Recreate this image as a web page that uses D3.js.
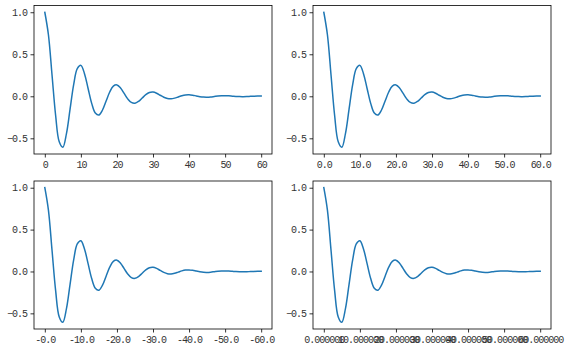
<!DOCTYPE html>
<html>
<head>
<meta charset="utf-8">
<script src="https://cdn.jsdelivr.net/npm/d3@7/dist/d3.min.js"></script>
<style>
  html, body { margin: 0; padding: 0; background: #fff; }
  svg { display: block; }
  .tick text { font-family: "Liberation Mono", "DejaVu Sans Mono", monospace; font-size: 10px; letter-spacing: -1px; fill: #333; }
</style>
</head>
<body>
<svg id="chart" width="567" height="352"></svg>
<script>
// ---- data (damped oscillation) ----
const tValues = [0,1,2,3,4,5,6,7,8,9,10,11,12,13,14,15,16,17,18,19,20,
  21,22,23,24,25,26,27,28,29,30,31,32,33,34,35,36,37,38,39,40,
  41,42,43,44,45,46,47,48,49,50,51,52,53,54,55,56,57,58,59,60];
const yValues = [1.000,0.7320,0.2530,-0.2289,-0.5423,-0.6065,-0.4440,-0.1535,0.1389,0.3289,
  0.3679,0.2693,0.0931,-0.0842,-0.1995,-0.2231,-0.1633,-0.0565,0.0511,0.1210,
  0.1353,0.0991,0.0342,-0.0310,-0.0734,-0.0821,-0.0601,-0.0208,0.0188,0.0445,
  0.0498,0.0364,0.0126,-0.0114,-0.0270,-0.0302,-0.0221,-0.0076,0.0069,0.0164,
  0.0183,0.0134,0.0046,-0.0042,-0.0099,-0.0111,-0.0081,-0.0028,0.0025,0.0060,
  0.0067,0.0049,0.0017,-0.0015,-0.0037,-0.0041,-0.0030,-0.0010,0.0009,0.0022,0.0025];

// ---- ticks ----
const xTickValues = [0,10,20,30,40,50,60];
const yTickValues = [-0.5,0.0,0.5,1.0];
const yTickLabels = ["\u22120.5","0.0","0.5","1.0"];
const xLabelsTL = ["0","10","20","30","40","50","60"];
const xLabelsTR = ["0.0","10.0","20.0","30.0","40.0","50.0","60.0"];
const xLabelsBL = ["-0.0","-10.0","-20.0","-30.0","-40.0","-50.0","-60.0"];
const xLabelsBR = ["0.000000","10.000000","20.000000","30.000000","40.000000","50.000000","60.000000"];

const panels = [
  {x0:34,  x1:272, y0:5.5, y1:154, labels:xLabelsTL},
  {x0:313, x1:551, y0:5.5, y1:154, labels:xLabelsTR},
  {x0:34,  x1:272, y0:181, y1:329, labels:xLabelsBL},
  {x0:313, x1:551, y0:181, y1:329, labels:xLabelsBR}
];

const svg = d3.select("#chart");
const data = tValues.map((t,i)=>({t, y:yValues[i]}));

panels.forEach(p => {
  const x = d3.scaleLinear().domain([-3, 63]).range([p.x0, p.x1]);
  const y = d3.scaleLinear().domain([-0.6868, 1.0803]).range([p.y1, p.y0]);
  const g = svg.append("g");

  const xAxis = d3.axisBottom(x).tickValues(xTickValues)
    .tickFormat((d,i)=>p.labels[i]).tickSize(3.5).tickPadding(3);
  const gx = g.append("g").attr("transform",`translate(0,${p.y1})`).call(xAxis);
  const yAxis = d3.axisLeft(y).tickValues(yTickValues)
    .tickFormat((d,i)=>yTickLabels[i]).tickSize(3.5).tickPadding(3.5);
  const gy = g.append("g").attr("transform",`translate(${p.x0},0)`).call(yAxis);
  [gx,gy].forEach(a=>{
    a.select(".domain").remove();
    a.selectAll(".tick line").attr("stroke","#000").attr("stroke-width",0.8);
  });

  g.append("path").datum(data)
    .attr("fill","none").attr("stroke","#1f77b4").attr("stroke-width",1.5)
    .attr("stroke-linejoin","round").attr("stroke-linecap","square")
    .attr("d", d3.line().x(d=>x(d.t)).y(d=>y(d.y)).curve(d3.curveCatmullRom.alpha(0.5)));

  g.append("rect").attr("x",p.x0).attr("y",p.y0)
    .attr("width",p.x1-p.x0).attr("height",p.y1-p.y0)
    .attr("fill","none").attr("stroke","#000").attr("stroke-width",0.8);
});
</script>
</body>
</html>
